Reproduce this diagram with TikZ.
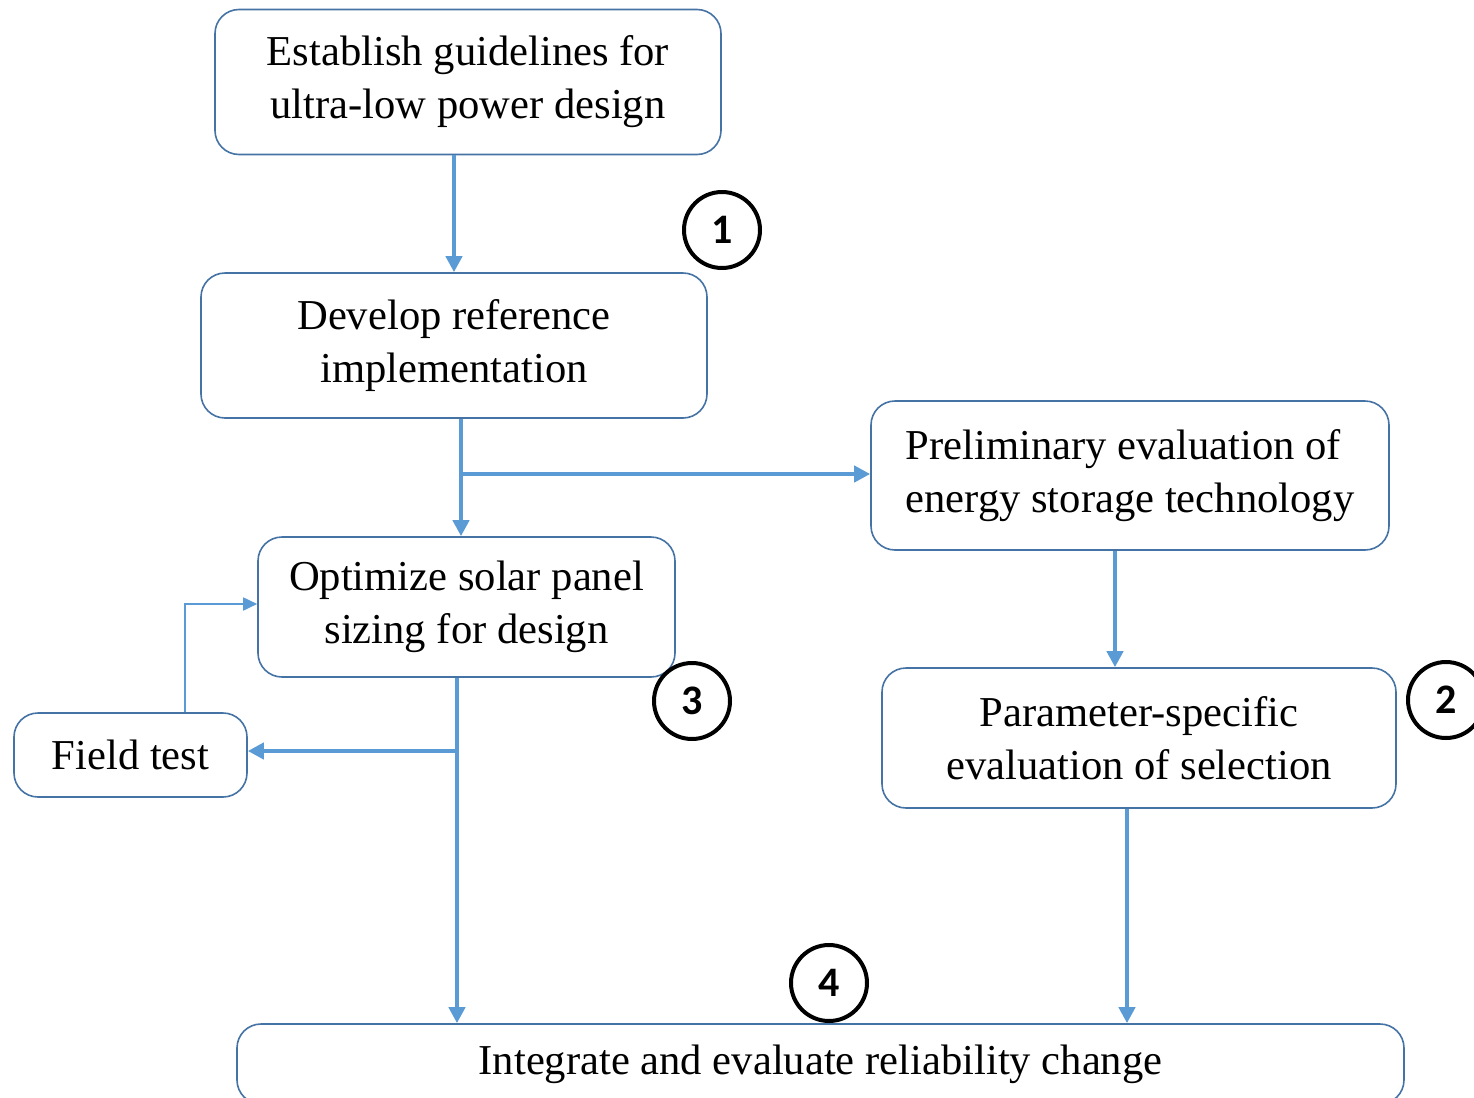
\documentclass[tikz,border=0pt]{standalone}
\usepackage{fontspec}
\setmainfont{Liberation Serif}
\newfontfamily\numfont{Carlito}
\usetikzlibrary{arrows.meta,positioning,calc}
\definecolor{boxblue}{RGB}{70,115,165}
\definecolor{arrowblue}{RGB}{91,155,213}
\tikzset{
    component/.style={
    rectangle,rounded corners=12pt,draw=boxblue,line width=0.8pt,fill=white,align=center,
    font=\fontsize{21.3}{26.5}\selectfont
    },
    flow/.style={
    draw=arrowblue,line width=2pt,-{Triangle[length=8pt,width=8pt]}
    },
    thinflow/.style={
    draw=arrowblue,line width=0.9pt,-{Triangle[length=7pt,width=6.5pt]}
    },
    badge/.style={
    circle,draw=black,line width=2pt,minimum size=38pt,inner sep=0pt,fill=white,
    font=\numfont\bfseries\fontsize{21}{21}\selectfont
    },
}

\begin{document}
\begin{tikzpicture}[x=0.5pt,y=-0.5pt]
   \useasboundingbox (0,0) rectangle (1474,1098);
   \node[component,minimum width=253pt,minimum height=72.5pt] (guide) at (468,82) {Establish guidelines for\\ultra-low power design};
   \node[component,minimum width=253pt,minimum height=72.5pt] (refimpl) at (454,345.5) {Develop reference\\implementation};
   \node[component,minimum width=259pt,minimum height=74.5pt,align=left] (storage) at (1130,475.5) {Preliminary evaluation of\\energy storage technology};
   \node[component,minimum width=208.5pt,minimum height=70pt] (solar) at (466.5,607) {Optimize solar panel\\sizing for design};
   \node[component,minimum width=257pt,minimum height=70pt] (param) at (1139,738) {Parameter-specific\\evaluation of selection};
   \node[component,minimum width=116.5pt,minimum height=42pt] (field) at (130.5,755) {Field test};
   \node[component,minimum width=583.5pt,minimum height=40pt] (integ) at (820.5,1064) {Integrate and evaluate reliability change};

   \coordinate (split1) at (461,474);
   \coordinate (split2) at (457,751);
   \coordinate (loop) at (185,604);
   \coordinate (storecol) at (1115,0);
   \coordinate (paramcol) at (1127,0);

   \draw[flow] (refimpl.north |- guide.south) -- (refimpl.north);
   \draw[flow] (refimpl.south -| split1) -- (solar.north -| split1);
   \draw[flow] (split1) -- (storage.west |- split1);
   \draw[flow] (storage.south -| storecol) -- (param.north -| storecol);
   \draw[flow] (solar.south -| split2) -- (integ.north -| split2);
   \draw[flow] (split2) -- (field.east |- split2);
   \draw[thinflow] (field.north -| loop) -- (loop) -- (solar.west |- loop);
   \draw[flow] (param.south -| paramcol) -- (integ.north -| paramcol);

   \node[badge] (n1) at (722,230) {1};
   \node[badge] (n2) at (1446,700) {2};
   \node[badge] (n3) at (692,701) {3};
   \node[badge] (n4) at (829,983) {4};
\end{tikzpicture}
\end{document}
